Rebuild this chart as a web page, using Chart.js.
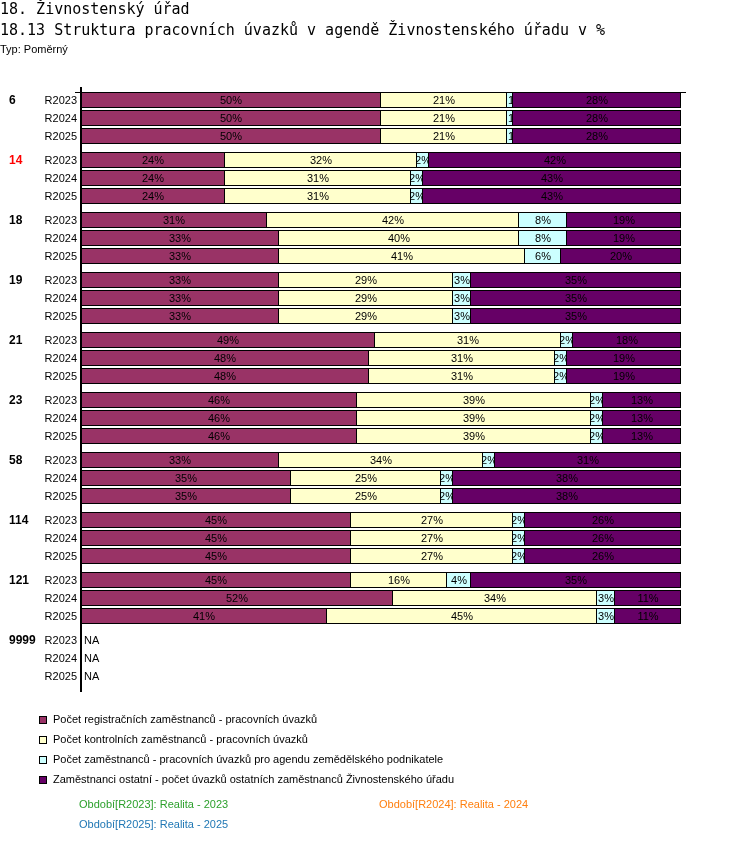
<!DOCTYPE html>
<html>
<head>
<meta charset="utf-8">
<script src="https://cdn.jsdelivr.net/npm/chart.js@4"></script>
<style>
  body { margin: 0; background: #fff; font-family: "Liberation Sans", Arial, sans-serif; }
  #wrap { position: relative; width: 750px; height: 862px; }
  #c { position: absolute; left: 0; top: 0; }
  .t1, .t2 { position: absolute; left: 0; font-family: "DejaVu Sans Mono", monospace; font-size: 15px; line-height: 18px; color: #000; white-space: nowrap; }
  .t1 { top: 0; }
  .t2 { top: 21px; }
  .typ { position: absolute; left: 0; top: 43px; font-size: 11px; line-height: 12px; }
  .leg { position: absolute; left: 39px; font-size: 11px; line-height: 12px; white-space: nowrap; }
  .leg span.box { display: inline-block; width: 6px; height: 6px; border: 1px solid #000; margin-right: 6px; vertical-align: -1px; }
  .foot { position: absolute; font-size: 11px; line-height: 12px; white-space: nowrap; }
</style>
</head>
<body>
<div id="wrap">
  <canvas id="c" width="750" height="862"></canvas>
  <div class="t1">18. Živnostenský úřad</div>
  <div class="t2">18.13 Struktura pracovních úvazků v agendě Živnostenského úřadu v %</div>
  <div class="typ">Typ: Poměrný</div>
  <div id="legend"></div>
</div>
<script>
// categories
const groups = ['6', '14', '18', '19', '21', '23', '58', '114', '121', '9999'];
const highlighted = ['14'];
const periods = ['R2023', 'R2024', 'R2025'];

// values in %, one row per period (R2023, R2024, R2025)
const registracni = [
  [50, 24, 31, 33, 49, 46, 33, 45, 45, null],
  [50, 24, 33, 33, 48, 46, 35, 45, 52, null],
  [50, 24, 33, 33, 48, 46, 35, 45, 41, null]
];
const kontrolni = [
  [21, 32, 42, 29, 31, 39, 34, 27, 16, null],
  [21, 31, 40, 29, 31, 39, 25, 27, 34, null],
  [21, 31, 41, 29, 31, 39, 25, 27, 45, null]
];
const zemedelsky = [
  [1, 2, 8, 3, 2, 2, 2, 2, 4, null],
  [1, 2, 8, 3, 2, 2, 2, 2, 3, null],
  [1, 2, 6, 3, 2, 2, 2, 2, 3, null]
];
const ostatni = [
  [28, 42, 19, 35, 18, 13, 31, 26, 35, null],
  [28, 43, 19, 35, 19, 13, 38, 26, 11, null],
  [28, 43, 20, 35, 19, 13, 38, 26, 11, null]
];

const seriesNames = [
  'Počet registračních zaměstnanců - pracovních úvazků',
  'Počet kontrolních zaměstnanců - pracovních úvazků',
  'Počet zaměstnanců - pracovních úvazků pro agendu zemědělského podnikatele',
  'Zaměstnanci ostatní - počet úvazků ostatních zaměstnanců Živnostenského úřadu'
];
const seriesColors = ['#993366', '#ffffcc', '#ccffff', '#660066'];
const seriesData = [registracni, kontrolni, zemedelsky, ostatni];

const periodNotes = ['Období[R2023]: Realita - 2023', 'Období[R2024]: Realita - 2024', 'Období[R2025]: Realita - 2025'];
const periodColors = ['#2ca02c', '#ff7f0e', '#1f77b4'];

const datasets = [];
periods.forEach((p, pi) => {
  seriesData.forEach((s, si) => {
    datasets.push({
      label: seriesNames[si],
      stack: p,
      data: s[pi],
      backgroundColor: seriesColors[si],
      borderColor: '#000',
      borderWidth: 1,
      borderSkipped: 'left',
      categoryPercentage: 0.9,
      barPercentage: 16 / 18
    });
  });
});

const labelsPlugin = {
  id: 'labels',
  afterDatasetsDraw(chart) {
    const ctx = chart.ctx;
    const xs = chart.scales.x, ys = chart.scales.y;
    const area = chart.chartArea;
    ctx.save();
    // percent labels
    ctx.font = '11px "Liberation Sans", Arial, sans-serif';
    ctx.textBaseline = 'middle';
    ctx.fillStyle = '#000';
    chart.data.datasets.forEach((ds, di) => {
      chart.getDatasetMeta(di).data.forEach((el, i) => {
        const v = ds.data[i];
        if (v == null) return;
        const l = Math.min(el.x, el.base), r = Math.max(el.x, el.base);
        const txt = Math.round(v) + '%';
        ctx.save();
        ctx.beginPath();
        ctx.rect(l, el.y - 8, r - l, 16);
        ctx.clip();
        if (r - l < 10) {
          ctx.textAlign = 'left';
          ctx.fillText(txt, l + 1, el.y + 1);
        } else {
          ctx.textAlign = 'center';
          ctx.fillText(txt, (l + r) / 2, el.y + 1);
        }
        ctx.restore();
      });
    });
    // group and row labels
    const slot = ys.getPixelForValue(1) - ys.getPixelForValue(0);
    const rowStep = slot * 0.9 / periods.length;
    groups.forEach((g, gi) => {
      const c = ys.getPixelForValue(gi);
      periods.forEach((p, pi) => {
        const y = c + (pi - (periods.length - 1) / 2) * rowStep;
        ctx.font = '11px "Liberation Sans", Arial, sans-serif';
        ctx.textAlign = 'right';
        ctx.fillStyle = '#000';
        ctx.fillText(p, xs.getPixelForValue(0) - 4, y + 1);
        if (registracni[pi][gi] == null) {
          ctx.textAlign = 'left';
          ctx.fillText('NA', xs.getPixelForValue(0) + 3, y + 1);
        }
        if (pi === 0) {
          ctx.font = 'bold 12px "Liberation Sans", Arial, sans-serif';
          ctx.textAlign = 'left';
          ctx.fillStyle = highlighted.includes(g) ? '#ff0000' : '#000';
          ctx.fillText(g, 9, y + 1);
        }
      });
    });
    // axis lines
    const x0 = xs.getPixelForValue(0);
    const firstTop = ys.getPixelForValue(0) - 1.5 * rowStep + 1;
    ctx.strokeStyle = '#000';
    ctx.lineWidth = 2;
    ctx.beginPath();
    ctx.moveTo(x0, area.top - 1);
    ctx.lineTo(x0, area.bottom + 4);
    ctx.stroke();
    ctx.lineWidth = 1;
    ctx.beginPath();
    ctx.moveTo(x0 - 6, Math.round(firstTop) + 0.5);
    ctx.lineTo(xs.getPixelForValue(100) + 5, Math.round(firstTop) + 0.5);
    ctx.stroke();
    ctx.restore();
  }
};

new Chart(document.getElementById('c'), {
  type: 'bar',
  data: { labels: groups, datasets: datasets },
  options: {
    indexAxis: 'y',
    responsive: false,
    animation: false,
    layout: { padding: { left: 81, right: 69, top: 88, bottom: 174 } },
    scales: {
      x: { display: false, stacked: true, min: 0, max: 100 },
      y: { display: false, stacked: true }
    },
    plugins: { legend: { display: false }, tooltip: { enabled: false } }
  },
  plugins: [labelsPlugin]
});

// legend and period notes
const leg = document.getElementById('legend');
seriesNames.forEach((n, i) => {
  const d = document.createElement('div');
  d.className = 'leg';
  d.style.top = (713 + i * 20) + 'px';
  d.innerHTML = '<span class="box" style="background:' + seriesColors[i] + '"></span>' + n;
  leg.appendChild(d);
});
periodNotes.forEach((n, i) => {
  const d = document.createElement('div');
  d.className = 'foot';
  d.style.left = (i === 1 ? 379 : 79) + 'px';
  d.style.top = (i === 2 ? 818 : 798) + 'px';
  d.style.color = periodColors[i];
  d.textContent = n;
  leg.appendChild(d);
});
</script>
</body>
</html>
